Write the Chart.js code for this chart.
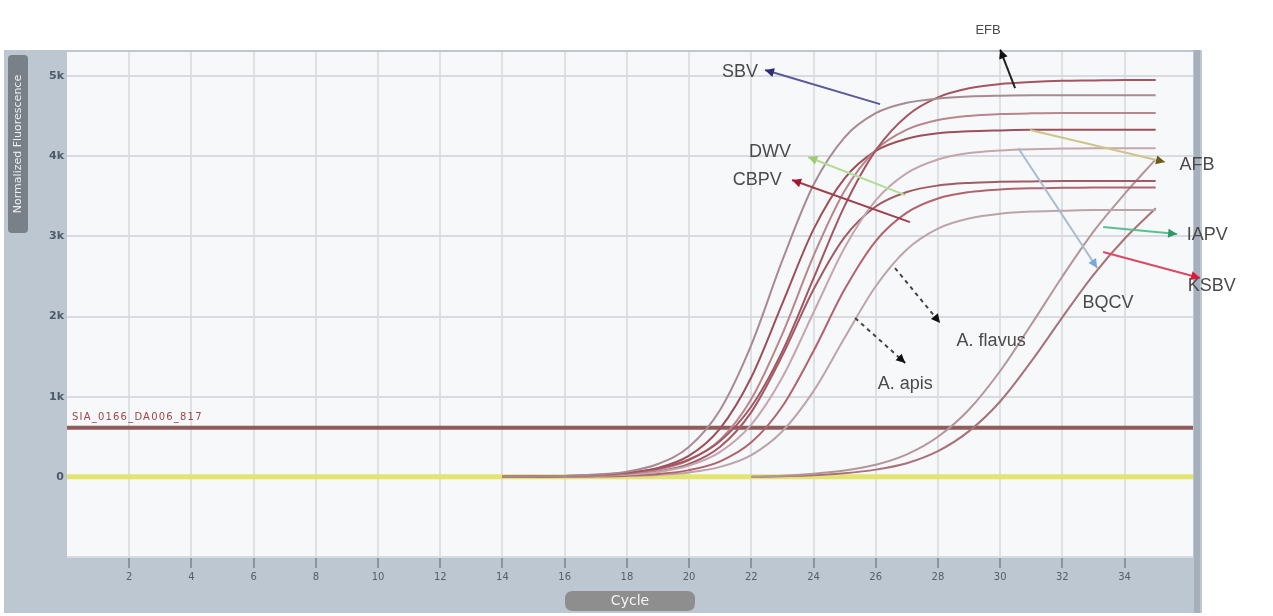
<!DOCTYPE html>
<html>
<head>
<meta charset="utf-8">
<script src="https://cdn.jsdelivr.net/npm/chart.js@4.4.0/dist/chart.umd.min.js"></script>
<style>
  html, body { margin: 0; padding: 0; background: #ffffff; }
  #wrap { width: 1273px; height: 616px; }
</style>
</head>
<body>
<div id="wrap"><canvas id="chart" width="1273" height="616"></canvas></div>
<script>
// cycles for the early / mid amplification curves
const cycles = [14, 15, 16, 17, 18, 19, 20, 21, 22, 23, 24, 25, 26, 27, 28, 29, 30, 31, 32, 33, 34, 35];
const curveSbv  = [0, 5, 12, 28, 65, 160, 376, 838, 1647, 2703, 3643, 4236, 4536, 4666, 4720, 4745, 4755, 4760, 4760, 4760, 4760, 4760];
const curveEfb  = [0, 4, 10, 24, 50, 103, 216, 447, 877, 1569, 2475, 3381, 4073, 4503, 4734, 4847, 4900, 4925, 4940, 4945, 4950, 4950];
const curveC    = [0, 3, 8, 18, 38, 89, 209, 463, 972, 1784, 2756, 3568, 4077, 4331, 4451, 4503, 4525, 4535, 4540, 4540, 4540, 4540];
const curveD    = [0, 4, 9, 20, 45, 111, 264, 606, 1243, 2165, 3087, 3724, 4066, 4217, 4285, 4310, 4322, 4330, 4330, 4330, 4330, 4330];
const curveE    = [0, 2, 5, 12, 27, 61, 141, 312, 652, 1242, 2050, 2858, 3448, 3788, 3959, 4039, 4072, 4088, 4095, 4100, 4100, 4100];
const curveDwv  = [0, 2, 5, 12, 27, 66, 160, 375, 808, 1515, 2336, 2990, 3373, 3553, 3634, 3667, 3680, 3686, 3690, 3690, 3690, 3690];
const curveCbpv = [0, 1, 3, 7, 15, 36, 84, 194, 430, 881, 1570, 2339, 2942, 3296, 3473, 3552, 3585, 3600, 3605, 3610, 3610, 3610];
const curveApis = [0, 1, 2, 5, 11, 24, 55, 124, 272, 569, 1069, 1735, 2378, 2837, 3097, 3223, 3283, 3310, 3320, 3330, 3330, 3330];

// late curves
const lateCycles = [22, 23, 24, 25, 26, 27, 28, 29, 30, 31, 32, 33, 34, 35];
const curveBqcv = [0, 15, 40, 80, 150, 280, 500, 840, 1320, 1900, 2500, 3060, 3530, 3960];
const curveKsbv = [0, 8, 20, 45, 90, 170, 320, 570, 940, 1440, 1990, 2520, 2970, 3350];

const thresholdValue = 612;
const baselineValue = 0;
const thresholdName = "SIA_0166_DA006_817";

const xTicks = [2, 4, 6, 8, 10, 12, 14, 16, 18, 20, 22, 24, 26, 28, 30, 32, 34];
const yTicks = [0, 1000, 2000, 3000, 4000, 5000];
const yTickText = ["0", "1k", "2k", "3k", "4k", "5k"];

const X_MIN = 0, X_MAX = 36.2, Y_MIN = -1000, Y_MAX = 5300;

function pts(xs, ys) {
  return xs.map((x, i) => ({ x: x, y: ys[i] }));
}

function curve(xs, ys, color, width) {
  return {
    data: pts(xs, ys),
    borderColor: color,
    borderWidth: width || 2,
    pointRadius: 0,
    cubicInterpolationMode: "monotone",
    fill: false,
  };
}

function flat(value, color, width) {
  return {
    data: [{ x: X_MIN, y: value }, { x: X_MAX, y: value }],
    borderColor: color,
    borderWidth: width,
    pointRadius: 0,
    fill: false,
  };
}

// arrows + labels, all in data units (cycle, fluorescence)
const notes = [
  { text: "SBV", at: [21.64, 5050], head: [22.44, 5075], tail: [26.14, 4650], color: "#5a5a9a", headColor: "#2c2c78" },
  { text: "EFB", at: [29.61, 5574], head: [30.0, 5330], tail: [30.48, 4850], color: "#222222", headColor: "#111111", size: 13 },
  { text: "DWV", at: [22.6, 4052], head: [23.83, 3990], tail: [26.95, 3515], color: "#b4dc98", headColor: "#9ccc70" },
  { text: "CBPV", at: [22.19, 3703], head: [23.31, 3703], tail: [27.1, 3178], color: "#a0404c", headColor: "#a01830" },
  { text: "AFB", at: [36.33, 3890], head: [35.3, 3927], tail: [30.96, 4326], color: "#cfc48a", headColor: "#6a5c1c" },
  { text: "IAPV", at: [36.66, 3016], head: [35.69, 3029], tail: [33.31, 3116], color: "#5cbf92", headColor: "#2e9a6a" },
  { text: "KSBV", at: [36.8, 2380], head: [36.43, 2480], tail: [33.31, 2804], color: "#d84a62", headColor: "#e0183a" },
  { text: "BQCV", at: [33.47, 2168], head: [33.12, 2605], tail: [30.58, 4102], color: "#a8bccd", headColor: "#78a8d8" },
  { text: "A. flavus", at: [29.71, 1694], head: [28.07, 1919], tail: [26.62, 2605], color: "#444444", headColor: "#111111", dash: true },
  { text: "A. apis", at: [26.95, 1158], head: [26.95, 1420], tail: [25.34, 1981], color: "#444444", headColor: "#111111", dash: true },
];

function roundRect(ctx, x, y, w, h, r) {
  ctx.beginPath();
  ctx.moveTo(x + r, y);
  ctx.lineTo(x + w - r, y);
  ctx.quadraticCurveTo(x + w, y, x + w, y + r);
  ctx.lineTo(x + w, y + h - r);
  ctx.quadraticCurveTo(x + w, y + h, x + w - r, y + h);
  ctx.lineTo(x + r, y + h);
  ctx.quadraticCurveTo(x, y + h, x, y + h - r);
  ctx.lineTo(x, y + r);
  ctx.quadraticCurveTo(x, y, x + r, y);
  ctx.closePath();
}

const framePlugin = {
  id: "frame",
  beforeDraw(chart) {
    const ctx = chart.ctx;
    const a = chart.chartArea;
    ctx.save();
    ctx.fillStyle = "#bcc7d2";
    ctx.fillRect(4, 50, 1198, 563);
    ctx.fillStyle = "#f6f8fa";
    ctx.fillRect(a.left, a.top, a.right - a.left, a.bottom - a.top);
    ctx.fillStyle = "#a6b0bc";
    ctx.fillRect(a.right + 1, 50, 6, 563);
    // y title box
    roundRect(ctx, 8, 55, 20, 178, 4);
    ctx.fillStyle = "#7a8088";
    ctx.fill();
    ctx.translate(18, 144);
    ctx.rotate(-Math.PI / 2);
    ctx.fillStyle = "#eef0f2";
    ctx.font = "11px 'DejaVu Sans'";
    ctx.textAlign = "center";
    ctx.textBaseline = "middle";
    ctx.fillText("Normalized Fluorescence", 0, 0);
    ctx.restore();
    // x title box
    ctx.save();
    const cx = (a.left + a.right) / 2;
    roundRect(ctx, cx - 65, 591, 130, 20, 8);
    ctx.fillStyle = "#8e8e8e";
    ctx.fill();
    ctx.fillStyle = "#f4f4f4";
    ctx.font = "14px 'DejaVu Sans'";
    ctx.textAlign = "center";
    ctx.textBaseline = "middle";
    ctx.fillText("Cycle", cx, 601);
    ctx.restore();
  },
  afterDatasetsDraw(chart) {
    const ctx = chart.ctx;
    const xs = chart.scales.x, ys = chart.scales.y;
    ctx.save();
    // threshold name
    ctx.fillStyle = "#a04646";
    ctx.font = "10px 'DejaVu Sans'";
    ctx.letterSpacing = "1.2px";
    ctx.textBaseline = "bottom";
    ctx.fillText(thresholdName, chart.chartArea.left + 5, ys.getPixelForValue(thresholdValue) - 5);
    ctx.letterSpacing = "0px";
    notes.forEach((n) => {
      const tx = xs.getPixelForValue(n.tail[0]), ty = ys.getPixelForValue(n.tail[1]);
      const hx = xs.getPixelForValue(n.head[0]), hy = ys.getPixelForValue(n.head[1]);
      ctx.strokeStyle = n.color;
      ctx.lineWidth = 2;
      ctx.setLineDash(n.dash ? [4, 4] : []);
      ctx.beginPath();
      ctx.moveTo(tx, ty);
      ctx.lineTo(hx, hy);
      ctx.stroke();
      ctx.setLineDash([]);
      const ang = Math.atan2(hy - ty, hx - tx);
      const L = 9, W = 4.5;
      ctx.fillStyle = n.headColor;
      ctx.beginPath();
      ctx.moveTo(hx, hy);
      ctx.lineTo(hx - L * Math.cos(ang) + W * Math.sin(ang), hy - L * Math.sin(ang) - W * Math.cos(ang));
      ctx.lineTo(hx - L * Math.cos(ang) - W * Math.sin(ang), hy - L * Math.sin(ang) + W * Math.cos(ang));
      ctx.closePath();
      ctx.fill();
      ctx.fillStyle = "#4a4a4a";
      ctx.font = (n.size || 18) + "px 'Liberation Sans'";
      ctx.textAlign = "center";
      ctx.textBaseline = "middle";
      ctx.fillText(n.text, xs.getPixelForValue(n.at[0]), ys.getPixelForValue(n.at[1]));
    });
    ctx.restore();
  },
};

const datasets = [
  curve(cycles, curveSbv, "#a88a90"),
  curve(cycles, curveEfb, "#a45660"),
  curve(cycles, curveC, "#b8868c"),
  curve(cycles, curveD, "#9c5058"),
  curve(cycles, curveE, "#c4a6ac"),
  curve(cycles, curveDwv, "#a05c66"),
  curve(cycles, curveCbpv, "#b0646e"),
  curve(cycles, curveApis, "#bca4a8"),
  curve(lateCycles, curveBqcv, "#b4969a"),
  curve(lateCycles, curveKsbv, "#a87278"),
  flat(thresholdValue, "#8e5c5a", 4),
  flat(baselineValue, "#e4e470", 5),
];

new Chart(document.getElementById("chart"), {
  type: "line",
  data: { datasets: datasets },
  plugins: [framePlugin],
  options: {
    responsive: false,
    animation: false,
    layout: { padding: { left: 0, right: 80, top: 52, bottom: 0 } },
    plugins: { legend: { display: false }, tooltip: { enabled: false } },
    scales: {
      x: {
        type: "linear",
        min: X_MIN,
        max: X_MAX,
        afterFit: (s) => { s.height = 59; },
        afterBuildTicks: (s) => { s.ticks = xTicks.map((v) => ({ value: v })); },
        ticks: { color: "#56606c", font: { size: 10, family: "DejaVu Sans" }, padding: 3, maxRotation: 0 },
        grid: { color: "#dde0e4", lineWidth: 2, tickLength: 11, tickColor: "#8a95a2" },
        border: { display: false },
      },
      y: {
        min: Y_MIN,
        max: Y_MAX,
        afterFit: (s) => { s.width = 67; },
        afterBuildTicks: (s) => { s.ticks = [Y_MIN].concat(yTicks).map((v) => ({ value: v })); },
        ticks: {
          color: "#4e5a68",
          font: { size: 11, family: "DejaVu Sans", weight: "bold" },
          padding: 3,
          callback: (v) => { const i = yTicks.indexOf(v); return i < 0 ? "" : yTickText[i]; },
        },
        grid: { color: "#d8dce1", lineWidth: 2, drawTicks: false },
        border: { display: false },
      },
    },
  },
});
</script>
</body>
</html>
